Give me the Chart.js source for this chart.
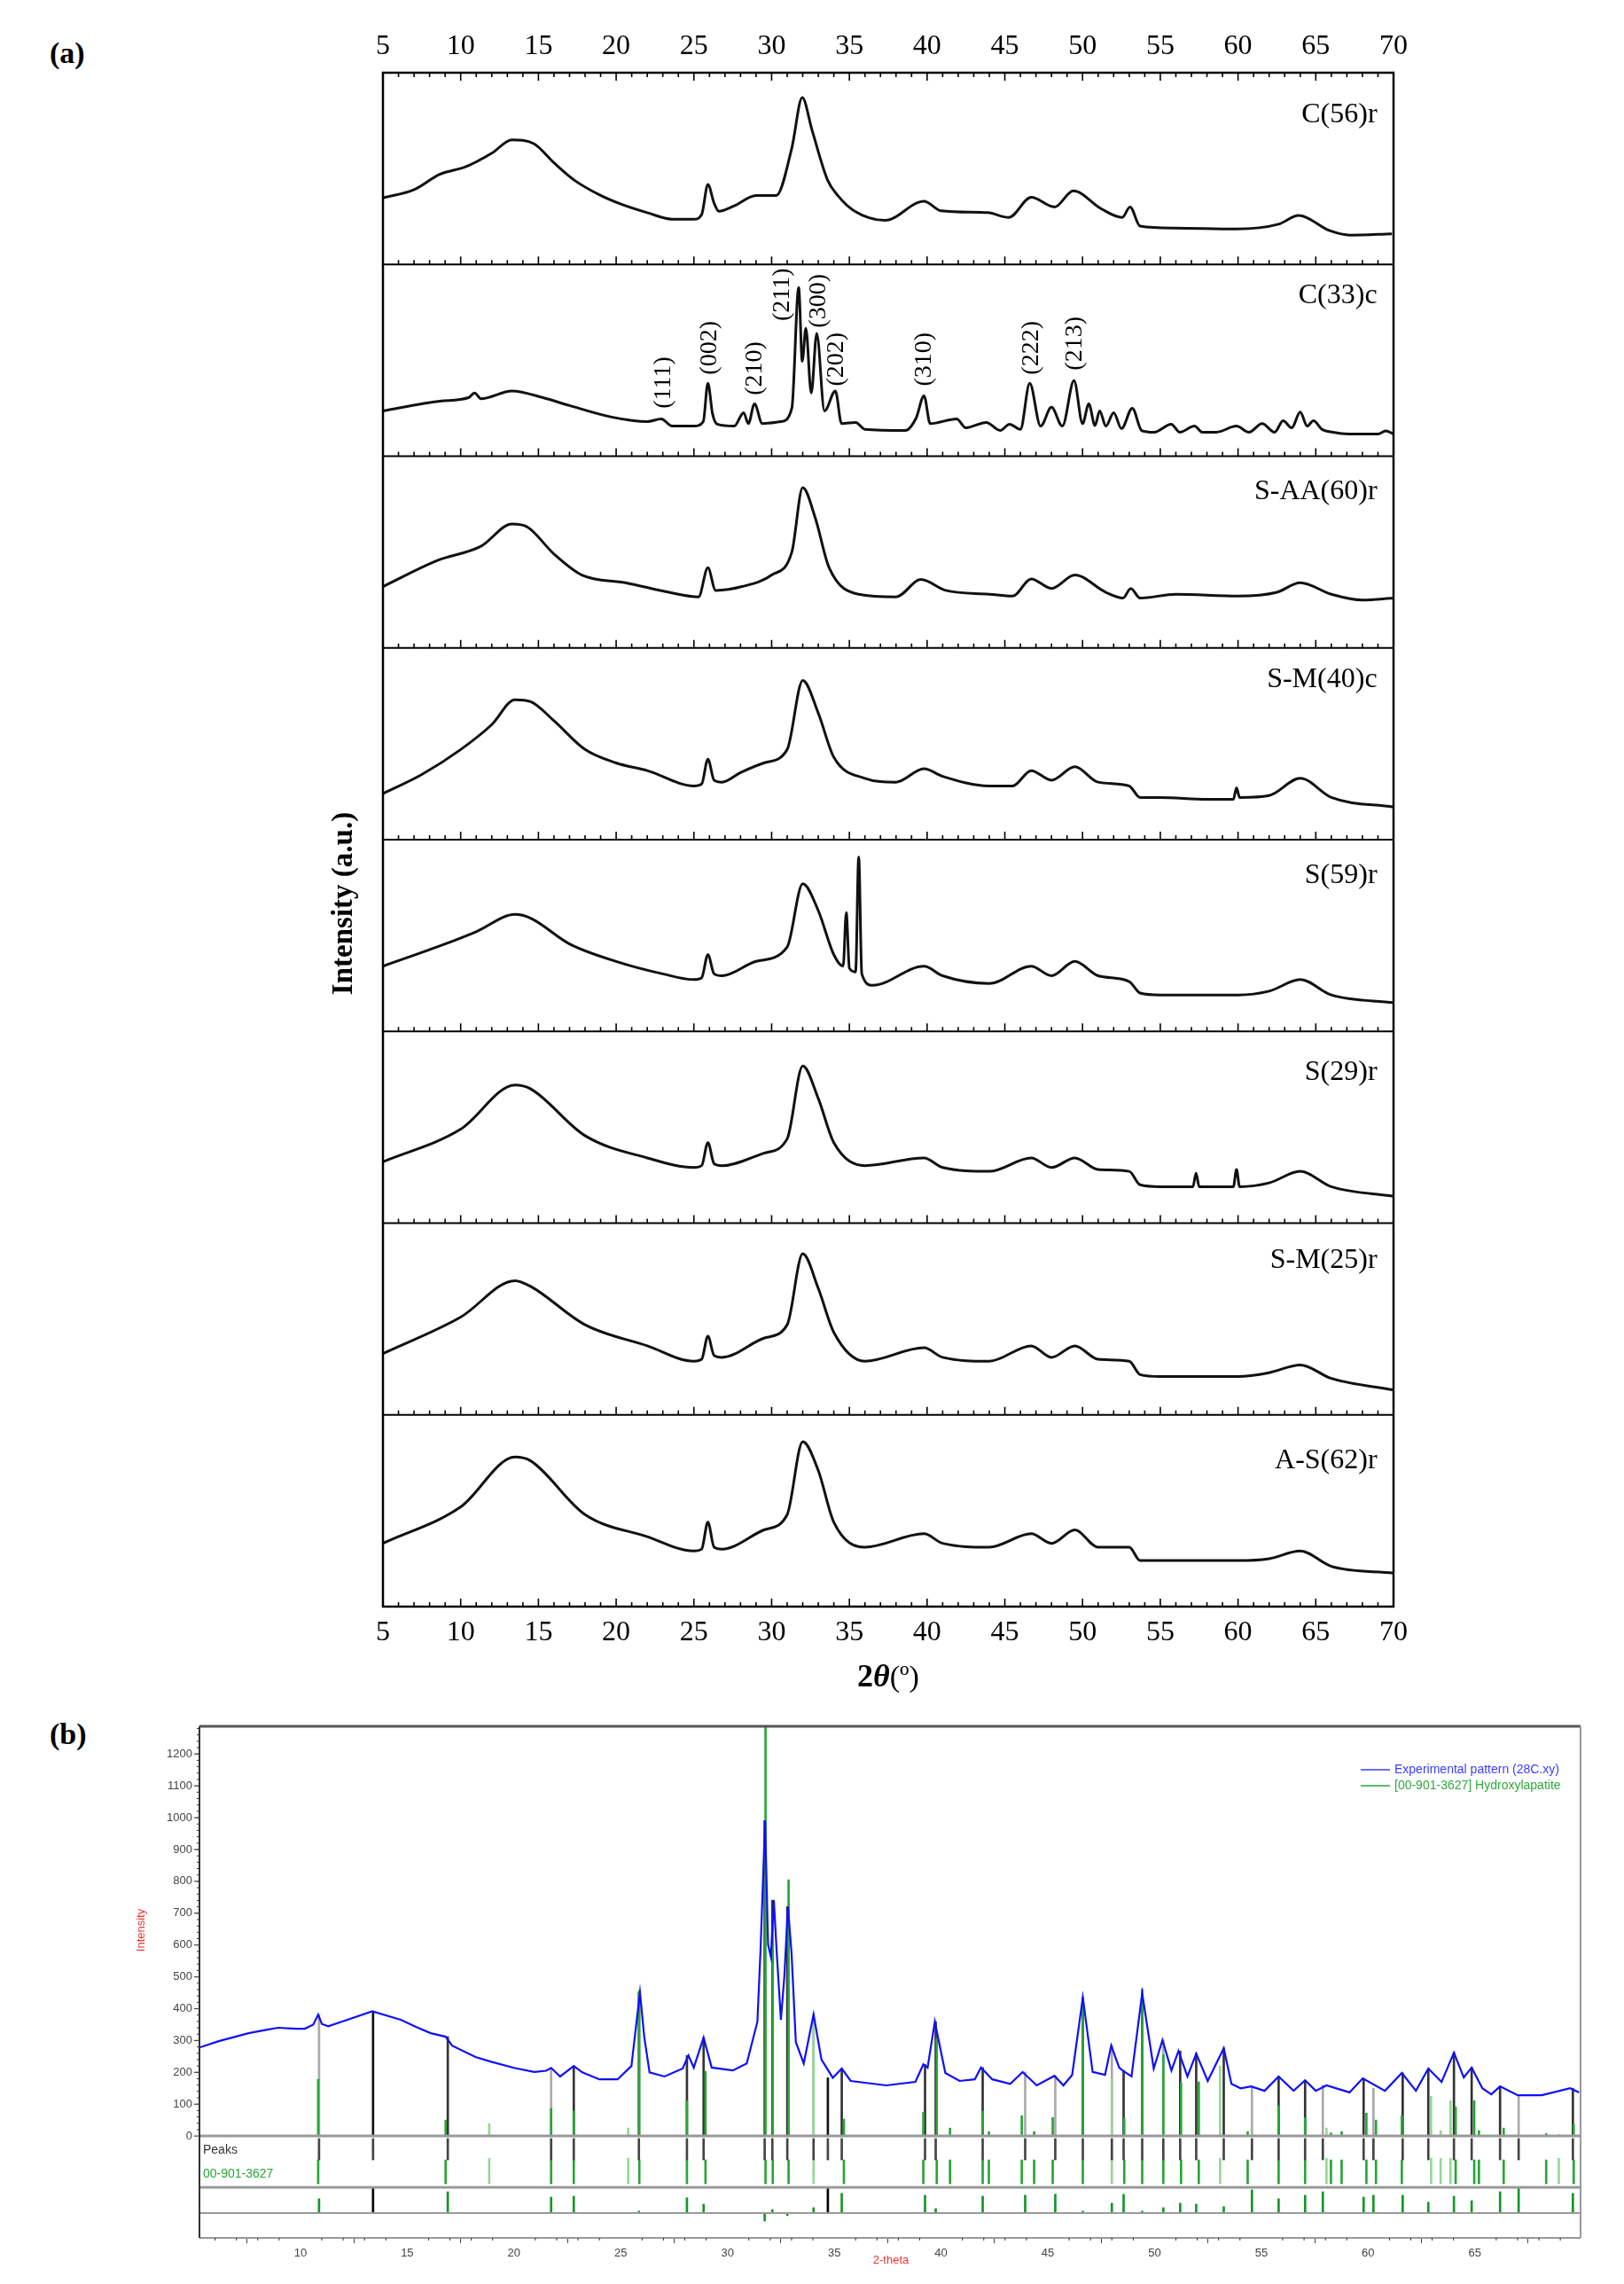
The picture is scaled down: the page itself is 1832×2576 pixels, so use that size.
<!DOCTYPE html>
<html>
<head>
<meta charset="utf-8">
<script src="https://cdn.jsdelivr.net/npm/chart.js@4.4.1/dist/chart.umd.min.js"></script>
<style>
body { margin: 0; background: #fff; width: 1832px; height: 2576px; position: relative; overflow: hidden; }
canvas { position: absolute; left: 0; }
#chartA { top: 0; }
#chartB { top: 1930px; }
.panel { position: absolute; font: bold 34px "Liberation Serif", "Times New Roman", serif; color: #000; }
</style>
</head>
<body>
<div class="panel" style="left:56px;top:41px">(a)</div>
<div class="panel" style="left:56px;top:1937px">(b)</div>
<canvas id="chartA" width="1832" height="1930"></canvas>
<canvas id="chartB" width="1832" height="646"></canvas>
<script>
// ---- panel (a): stacked XRD patterns, values in % of each panel height ----
var sampleNames = ['C(56)r', 'C(33)c', 'S-AA(60)r', 'S-M(40)c', 'S(59)r', 'S(29)r', 'S-M(25)r', 'A-S(62)r'];
var sampleLabelY = [77.8, 83.8, 81.5, 83.5, 81, 78.7, 80.5, 76];

var c56X = [5, 7, 8.65, 10.35, 12, 13.3, 14.7, 16, 17.3, 19, 20.3, 22, 23.6, 25, 25.5, 25.9, 26.3, 26.6, 27.6, 29, 30.3, 31.3, 31.97, 32.6, 33.6, 34.25, 35.3, 37.3, 39.8, 40.9, 43.9, 45.25, 46.7, 48.2, 49.4, 51.2, 52.55, 53.05, 53.7, 55.9, 59.9, 62.6, 63.9, 65.9, 67.2, 69.9];
var c56Y = [34.7, 39, 47, 51, 58, 65, 63, 53, 44, 36, 31.5, 27, 23.6, 23.6, 26, 41.7, 32, 27.8, 30.6, 36, 36, 60.8, 87, 70, 44, 36, 28, 23, 33, 28, 27, 24.5, 35, 30, 38.4, 29, 24.5, 30, 20, 19, 18.5, 21, 25.5, 17.6, 15.3, 16];

var c33X = [5, 8.65, 10.5, 10.9, 11.3, 13.3, 15.3, 17, 19.7, 22, 22.9, 23.6, 25, 25.6, 25.9, 26.2, 26.5, 27.6, 28.2, 28.5, 28.9, 29.4, 30.6, 31.3, 31.74, 31.97, 32.2, 32.55, 32.9, 33.4, 34.1, 34.5, 35.4, 36, 38.6, 39.3, 39.8, 40.2, 41.9, 42.5, 43.8, 44.7, 45.3, 46, 46.6, 47.3, 48, 48.7, 49.45, 50, 50.4, 50.8, 51.1, 51.5, 52, 52.5, 53.2, 53.8, 54.6, 55.7, 56.25, 57.2, 57.7, 58.6, 59.9, 60.7, 61.55, 62.35, 62.9, 63.45, 64, 64.45, 64.85, 65.4, 66.1, 67.1, 69, 69.5, 70];
var c33Y = [23.6, 28.7, 30.5, 33, 30, 34, 30.5, 26.4, 20.4, 18, 19.4, 15.7, 15.7, 18, 38, 22, 16.7, 15.7, 22.7, 17, 27.3, 17, 18, 25, 88, 49.5, 66.7, 32.9, 64, 23.6, 34, 17, 17.6, 14, 13.4, 20, 31.5, 17, 19.4, 14.8, 17.6, 13.4, 16.7, 14, 38, 15.7, 25.5, 15.7, 39.4, 17, 27.3, 16, 23.6, 15.7, 22.7, 14.4, 25, 13.4, 12.5, 16.7, 12.5, 15.7, 12.5, 12.5, 15.7, 12.5, 17, 12.5, 18.5, 14.8, 23, 15.7, 18.5, 14, 12.5, 11.6, 11.6, 13.2, 11.6];

var saa60X = [5, 8.5, 11.3, 13.3, 14.3, 16, 17.8, 20.6, 23.4, 25.3, 25.9, 26.4, 28.1, 30, 31.3, 32, 32.8, 33.7, 35.6, 38, 39.6, 41.2, 44, 45.5, 46.7, 48, 49.5, 51.5, 52.6, 53.1, 53.7, 56, 60, 62.5, 64, 66, 68, 70];
var saa60Y = [32, 45.6, 53, 64.6, 63, 49, 38, 34, 29, 26.6, 41.8, 30, 32, 38, 50, 83.6, 68, 41.8, 28, 26.6, 35.7, 30, 28, 27, 36, 31, 38, 29, 26, 31, 26, 28, 27, 29, 34, 28, 25, 26];

var sm40X = [5, 7.5, 10, 12, 13.5, 14.5, 16, 18, 20, 22, 25, 25.5, 25.9, 26.3, 26.8, 28, 29.5, 31, 32, 33, 34, 36, 38, 39.8, 41, 44, 45.5, 46.7, 48, 49.5, 51, 53, 53.7, 55, 58, 59.7, 59.9, 60.1, 62, 64, 66, 70];
var sm40Y = [24, 34, 47, 60, 73, 72, 62, 47, 40, 36, 28, 29, 42, 31, 30, 35, 40, 47, 83, 66, 43, 32, 30, 37, 33, 28, 28, 36, 31, 38, 30, 28, 22, 22, 21, 21, 27, 22, 23, 32, 22, 17];

var s59X = [5, 9, 11, 13.5, 14.5, 17, 20, 23, 25, 25.5, 25.9, 26.3, 26.8, 29, 31, 32, 33, 34, 34.6, 34.8, 35.0, 35.4, 35.6, 35.8, 36.5, 39.8, 41, 44, 46.7, 48, 49.5, 51, 53, 53.7, 55, 60, 62, 64, 66, 70];
var s59Y = [34, 45.6, 52, 61, 59, 45.6, 36.5, 30, 27, 28, 40, 30, 29, 36.5, 44, 77, 63, 40, 34, 62, 33, 31, 91, 30, 24, 34, 29, 25, 34, 29, 36.5, 29, 26, 20, 19, 19, 21, 27, 19, 15];

var s29X = [5, 10, 13.5, 14.5, 18, 22, 25, 25.5, 25.9, 26.3, 26.8, 29.5, 31, 32, 33, 34, 36, 39.8, 41, 44, 46.7, 48, 49.5, 51, 53, 53.7, 55, 57.1, 57.3, 57.5, 59.7, 59.9, 60.1, 62, 64, 66, 70];
var s29Y = [32, 49, 72, 70, 45.6, 34, 29, 30, 42, 31, 30, 36.5, 44, 82, 65, 42, 30, 34, 29, 27, 34, 29, 34, 28, 27, 20, 19, 19, 26, 19, 19, 28, 19, 21, 27, 19, 14];

var sm25X = [5, 10, 13.5, 14.5, 18, 22, 25, 25.5, 25.9, 26.3, 26.8, 29.5, 31, 32, 33, 34, 36, 39.8, 41, 44, 46.7, 48, 49.5, 51, 53, 53.7, 55, 60, 62, 64, 66, 70];
var sm25Y = [32, 51, 70, 67, 47, 36, 28, 29, 41, 31, 30, 40, 47, 84, 66, 43, 28, 35, 30, 28, 36, 30, 36, 29, 28, 21, 20, 20, 22, 26, 19, 13];

var as62X = [5, 10, 13.5, 14.5, 18, 22, 25, 25.5, 25.9, 26.3, 26.8, 29.5, 31, 32, 33, 34, 36, 39.8, 41, 44, 46.7, 48, 49.5, 51, 53, 53.7, 55, 60, 62, 64, 66, 70];
var as62Y = [33, 52, 78, 76, 48, 36.5, 29, 30, 44, 31, 30, 40, 48, 86, 71, 44, 31, 38, 33, 31, 38, 33, 40, 31, 31, 24, 24, 24, 25, 29, 21, 17.5];

// Miller indices marked on C(33)c
var hklText = ['(111)', '(002)', '(210)', '(211)', '(300)', '(202)', '(310)', '(222)', '(213)'];
var hklX = [23.07, 26.0, 28.95, 30.7, 33.05, 34.2, 39.8, 46.7, 49.5];
var hklY = [38.4, 56.5, 45.8, 84.3, 81, 50.5, 50.5, 56.5, 58.8];

// ---- panel (b): 28C pattern vs hydroxylapatite reference ----
var intensityTicks = [0, 100, 200, 300, 400, 500, 600, 700, 800, 900, 1000, 1100, 1200];

var expX = [5.27, 6.17, 7.57, 8.5, 8.96, 9.8, 10.2, 10.6, 10.83, 11.0, 11.3, 12.2, 13.36, 14.7, 15.43, 16.1, 16.8, 17.1, 18.2, 18.9, 20.0, 20.95, 21.5, 21.74, 22.16, 22.8, 23.2, 24.0, 24.85, 25.5, 25.9, 26.1, 26.35, 27.05, 27.9, 28.17, 28.42, 28.88, 29.26, 30.25, 30.9, 31.4, 31.55, 31.76, 31.9, 32.03, 32.17, 32.3, 32.5, 32.66, 32.83, 33.0, 33.2, 33.57, 34.03, 34.4, 34.93, 35.35, 35.77, 37.43, 38.8, 39.17, 39.37, 39.71, 40.2, 40.87, 41.58, 41.87, 42.4, 43.24, 43.82, 44.48, 45.31, 45.73, 46.14, 46.64, 47.1, 47.68, 47.97, 48.34, 48.5, 48.92, 49.42, 49.96, 50.37, 50.79, 51.12, 51.54, 51.95, 52.49, 53.24, 53.6, 54.03, 54.52, 55.15, 55.81, 56.51, 57.05, 57.55, 58.05, 59.13, 59.75, 60.79, 61.58, 62.24, 62.82, 63.44, 64.02, 64.48, 64.85, 65.35, 65.77, 66.18, 67.01, 68.13, 69.46, 69.88];
var expY = [278, 298, 323, 335, 340, 337, 337, 350, 381, 352, 345, 365, 392, 365, 342, 323, 312, 284, 248, 234, 214, 201, 205, 214, 187, 220, 200, 178, 178, 220, 451, 312, 200, 187, 212, 253, 215, 309, 215, 206, 228, 359, 590, 991, 601, 563, 741, 582, 365, 499, 721, 573, 295, 228, 382, 240, 183, 212, 173, 159, 170, 225, 215, 359, 198, 173, 178, 215, 178, 164, 201, 159, 189, 159, 192, 435, 201, 192, 284, 215, 206, 187, 448, 212, 301, 206, 267, 187, 259, 173, 276, 164, 150, 156, 142, 187, 142, 175, 142, 159, 137, 181, 142, 198, 142, 212, 170, 262, 184, 215, 150, 131, 156, 128, 128, 150, 137];

// detected peaks (dark markers) with their difference bars
var peakX = [16.9, 22.8, 25.85, 28.1, 28.88, 31.74, 32.1, 32.8, 35.35, 39.25, 39.75, 41.95, 46.64, 48.55, 49.42, 51.2, 51.95, 53.24, 55.81, 57.05, 59.79, 61.62, 62.82, 64.02, 64.85, 66.18, 69.59];
var peakTop = [312, 220, 451, 253, 309, 991, 741, 721, 212, 225, 359, 215, 435, 206, 448, 267, 259, 276, 187, 175, 181, 198, 212, 262, 215, 156, 150];
var peakDiff = [67, 53, 6, 48, 28, -25, 11, -8, 62, 56, 14, 53, 6, 59, 6, 31, 28, 20, 45, 56, 50, 56, 34, 53, 39, 67, 62];
// detected peaks drawn in grey
var peakXLight = [10.87, 21.74, 34.03, 43.94, 45.35, 48.0, 50.41, 54.56, 57.88, 60.25, 67.05];
var peakTopLight = [381, 214, 382, 201, 189, 284, 301, 156, 160, 150, 128];
var peakDiffLight = [45, 50, 17, 56, 59, 31, 17, 73, 67, 56, 81];
// peaks with no reference match
var unmatchedX = [13.4, 34.7];
var unmatchedTop = [392, 183];

// 00-901-3627 hydroxylapatite stick pattern
var refX = [10.83, 16.8, 21.74, 22.8, 25.87, 28.1, 28.97, 31.78, 32.12, 32.86, 35.45, 39.17, 39.8, 40.42, 41.95, 42.24, 43.78, 44.36, 45.23, 46.64, 48.58, 49.42, 50.41, 51.24, 52.07, 54.36, 55.81, 57.05, 58.26, 58.76, 59.92, 60.37, 61.58, 64.1, 64.97, 65.19, 66.35, 68.34, 69.63];
var refI = [178, 50, 86, 79, 457, 111, 203, 1300, 600, 805, 53, 75, 304, 25, 78, 14, 64, 14, 58, 435, 56, 462, 256, 167, 170, 14, 95, 58, 10, 14, 72, 50, 64, 92, 111, 17, 25, 8, 36];
var refXLight = [18.84, 25.35, 34.03, 48.0, 53.07, 58.05, 62.95, 63.4, 63.86, 68.93];
var refILight = [39, 25, 351, 178, 220, 25, 125, 17, 111, 5];

var serif = '"Liberation Serif", "Times New Roman", serif';
var narrow = '"Liberation Sans Narrow", "Liberation Sans", Arial, sans-serif';
Chart.defaults.font.family = serif;
Chart.defaults.color = '#000';

var NP = sampleNames.length;
var panelX = [c56X, c33X, saa60X, sm40X, s59X, s29X, sm25X, as62X];
var panelY = [c56Y, c33Y, saa60Y, sm40Y, s59Y, s29Y, sm25Y, as62Y];

function line(ctx, x1, y1, x2, y2) {
    ctx.beginPath(); ctx.moveTo(x1, y1); ctx.lineTo(x2, y2); ctx.stroke();
}

var frameA = {
    id: 'frameA',
    afterDraw: function(chart) {
        var ctx = chart.ctx, a = chart.chartArea, x = chart.scales.x, y = chart.scales.y;
        ctx.save();
        ctx.strokeStyle = '#000';
        ctx.lineWidth = 2.5;
        ctx.strokeRect(a.left, a.top, a.right - a.left, a.bottom - a.top);
        ctx.lineWidth = 2.2;
        for (var k = 1; k < NP; k++) {
            var py = y.getPixelForValue(k * 100);
            line(ctx, a.left, py, a.right, py);
        }
        ctx.lineWidth = 1.6;
        for (var k = 0; k <= NP; k++) {
            var py = y.getPixelForValue(k * 100);
            var dir = k === NP ? 1 : -1;
            for (var v = 5; v <= 70; v++) {
                var px = x.getPixelForValue(v);
                line(ctx, px, py, px, py + dir * (v % 5 === 0 ? 9 : 5));
            }
        }
        ctx.fillStyle = '#000';
        ctx.font = '32px ' + serif;
        ctx.textAlign = 'right';
        ctx.textBaseline = 'middle';
        sampleNames.forEach(function(n, i) {
            ctx.fillText(n, x.getPixelForValue(68.95), y.getPixelForValue((NP - 1 - i) * 100 + sampleLabelY[i]));
        });
        ctx.font = '28px ' + serif;
        ctx.textAlign = 'center';
        hklText.forEach(function(t, i) {
            ctx.save();
            ctx.translate(x.getPixelForValue(hklX[i]), y.getPixelForValue((NP - 2) * 100 + hklY[i]));
            ctx.rotate(-Math.PI / 2);
            ctx.fillText(t, 0, 0);
            ctx.restore();
        });
        // axis titles
        ctx.save();
        ctx.translate(388, 1019);
        ctx.rotate(-Math.PI / 2);
        ctx.font = 'bold 33px ' + serif;
        ctx.fillText('Intensity (a.u.)', 0, 0);
        ctx.restore();
        var parts = [['2', 'bold 36px '], ['\u03b8', 'italic bold 36px '], ['(\u00ba)', '34px ']];
        var w = 0;
        parts.forEach(function(p) { ctx.font = p[1] + serif; w += ctx.measureText(p[0]).width; });
        var cx = (a.left + a.right) / 2 - w / 2;
        ctx.textAlign = 'left';
        parts.forEach(function(p) {
            ctx.font = p[1] + serif;
            ctx.fillText(p[0], cx, 1893);
            cx += ctx.measureText(p[0]).width;
        });
        ctx.restore();
    }
};

var axisTicks = { stepSize: 5, font: { size: 32 }, color: '#000', padding: 10, maxRotation: 0 };

new Chart(document.getElementById('chartA'), {
    type: 'line',
    data: {
        datasets: panelX.map(function(xs, i) {
            return {
                data: xs.map(function(v, j) { return { x: v, y: panelY[i][j] + (NP - 1 - i) * 100 }; }),
                borderColor: '#111',
                borderWidth: 3,
                pointRadius: 0,
                cubicInterpolationMode: 'monotone',
                fill: false
            };
        })
    },
    options: {
        responsive: false,
        animation: false,
        devicePixelRatio: 1,
        layout: { padding: { left: 392, right: 220, top: 0, bottom: 0 } },
        plugins: { legend: { display: false }, tooltip: { enabled: false } },
        scales: {
            x: { type: 'linear', position: 'bottom', min: 5, max: 70, ticks: axisTicks,
                 grid: { display: false, drawTicks: false }, border: { display: false },
                 afterFit: function(s) { s.height = 118; } },
            x2: { type: 'linear', position: 'top', min: 5, max: 70, ticks: axisTicks,
                  grid: { display: false, drawTicks: false }, border: { display: false },
                  afterFit: function(s) { s.height = 82; } },
            y: { type: 'linear', position: 'left', min: 0, max: NP * 100,
                 ticks: { display: false }, grid: { display: false, drawTicks: false }, border: { display: false },
                 afterFit: function(s) { s.width = 40; } },
            yR: { type: 'linear', position: 'right', min: 0, max: NP * 100,
                  ticks: { display: false }, grid: { display: false, drawTicks: false }, border: { display: false },
                  afterFit: function(s) { s.width = 40; } }
        }
    },
    plugins: [frameA]
});

// ---- chart (b) ----
var BASE = -242;      // baseline of the difference strip
var STRIP_MID = -75;  // split of the peaks strip
var GREEN = 'rgb(40,165,55)';
var LIGHTGREEN = 'rgb(150,215,150)';

function sticks(xs, lo, hi) {
    return xs.map(function(v, i) {
        return { x: v, y: [typeof lo === 'number' ? lo : lo[i], typeof hi === 'number' ? hi : hi[i]] };
    });
}
function barSet(data, color, order) {
    return { type: 'bar', data: data, backgroundColor: color, borderWidth: 0, barThickness: 2, grouped: false, order: order || 2 };
}

var frameB = {
    id: 'frameB',
    afterDraw: function(chart) {
        var ctx = chart.ctx, a = chart.chartArea, x = chart.scales.x, y = chart.scales.y;
        ctx.save();
        // separators
        ctx.strokeStyle = '#999';
        ctx.lineWidth = 3;
        line(ctx, a.left, y.getPixelForValue(0), a.right, y.getPixelForValue(0));
        line(ctx, a.left, y.getPixelForValue(-161), a.right, y.getPixelForValue(-161));
        ctx.lineWidth = 2;
        line(ctx, a.left, y.getPixelForValue(BASE), a.right, y.getPixelForValue(BASE));
        // frame
        ctx.strokeStyle = '#555'; ctx.lineWidth = 3;
        line(ctx, a.left, a.top, a.right, a.top);
        ctx.strokeStyle = '#999'; ctx.lineWidth = 2;
        line(ctx, a.right, a.top, a.right, a.bottom);
        line(ctx, a.left, a.bottom, a.right, a.bottom);
        ctx.strokeStyle = '#333';
        line(ctx, a.left, a.top, a.left, a.bottom);
        // minor ticks
        ctx.lineWidth = 1;
        for (var v = 6; v < 70; v++) {
            if (v % 5 === 0) continue;
            var px = x.getPixelForValue(v);
            line(ctx, px, a.bottom, px, a.bottom + 3);
        }
        for (var t = 20; t < 1287; t += 20) {
            var py = y.getPixelForValue(t);
            line(ctx, a.left - 3, py, a.left, py);
        }
        // intensity axis: major ticks and labels
        ctx.strokeStyle = '#444'; ctx.lineWidth = 1.2;
        ctx.fillStyle = '#444';
        ctx.font = '13px ' + narrow;
        ctx.textAlign = 'right'; ctx.textBaseline = 'middle';
        intensityTicks.forEach(function(t) {
            var py = y.getPixelForValue(t);
            line(ctx, a.left - 6, py, a.left, py);
            ctx.fillText(String(t), a.left - 8, py);
        });
        // strip labels
        ctx.font = '14px ' + narrow;
        ctx.textAlign = 'left'; ctx.textBaseline = 'middle';
        ctx.fillStyle = '#333';
        ctx.fillText('Peaks', a.left + 4, y.getPixelForValue(-45));
        ctx.fillStyle = GREEN;
        ctx.fillText('00-901-3627', a.left + 4, y.getPixelForValue(-120));
        // legend
        var lx = a.right - 248;
        [['Experimental pattern (28C.xy)', 'rgb(60,60,255)', 'rgb(60,60,255)', 49],
         ['[00-901-3627] Hydroxylapatite', GREEN, 'rgb(50,170,60)', 67]].forEach(function(e) {
            var ly = a.top + e[3];
            ctx.strokeStyle = e[1]; ctx.lineWidth = 1.5;
            line(ctx, lx, ly, lx + 33, ly);
            ctx.fillStyle = e[2];
            ctx.fillText(e[0], lx + 38, ly);
        });
        // titles
        ctx.fillStyle = 'rgb(240,50,50)';
        ctx.font = '13px ' + narrow;
        ctx.textAlign = 'center';
        ctx.fillText('2-theta', (a.left + a.right) / 2 + 1, 619);
        ctx.save();
        ctx.translate(159, 247);
        ctx.rotate(-Math.PI / 2);
        ctx.fillText('Intensity', 0, 0);
        ctx.restore();
        ctx.restore();
    }
};

new Chart(document.getElementById('chartB'), {
    type: 'line',
    data: {
        datasets: [
            { label: 'Experimental pattern (28C.xy)',
              data: expX.map(function(v, i) { return { x: v, y: expY[i] }; }),
              borderColor: 'rgb(15,15,250)', borderWidth: 2.2, pointRadius: 0, fill: false, order: 0 },
            barSet(sticks(refXLight, 0, refILight), LIGHTGREEN, 3),
            barSet(sticks(peakXLight, 0, peakTopLight), '#aaa', 3),
            barSet(sticks(peakX, 0, peakTop), '#333', 2),
            barSet(sticks(unmatchedX, 0, unmatchedTop), '#111', 2),
            barSet(sticks(refX, 0, refI), GREEN, 1),
            // peaks strip
            barSet(sticks(peakX.concat(peakXLight, unmatchedX), STRIP_MID, -8), '#444'),
            barSet(sticks(refX, -150, STRIP_MID), GREEN),
            barSet(sticks(refXLight, -150, STRIP_MID + 5), LIGHTGREEN),
            // difference strip
            barSet(sticks(peakX.concat(peakXLight), BASE, peakDiff.concat(peakDiffLight).map(function(d) { return BASE + d; })), 'rgb(20,150,40)'),
            barSet(sticks(unmatchedX, BASE, -161), '#000')
        ]
    },
    options: {
        responsive: false,
        animation: false,
        devicePixelRatio: 1,
        layout: { padding: { left: 175, right: 49, top: 17, bottom: 0 } },
        plugins: { legend: { display: false }, tooltip: { enabled: false } },
        scales: {
            x: { type: 'linear', min: 5.27, max: 69.95, offset: false,
                 ticks: { stepSize: 5, padding: 4, maxRotation: 0, includeBounds: false,
                          font: { size: 13, family: narrow }, color: '#444' },
                 grid: { drawOnChartArea: false, drawTicks: true, tickLength: 6, color: '#444' },
                 border: { display: false },
                 afterFit: function(s) { s.height = 52; } },
            y: { type: 'linear', position: 'left', min: -320, max: 1287,
                 ticks: { display: false },
                 grid: { display: false, drawTicks: false },
                 border: { display: false },
                 afterFit: function(s) { s.width = 50; } }
        }
    },
    plugins: [frameB]
});
</script>
</body>
</html>
